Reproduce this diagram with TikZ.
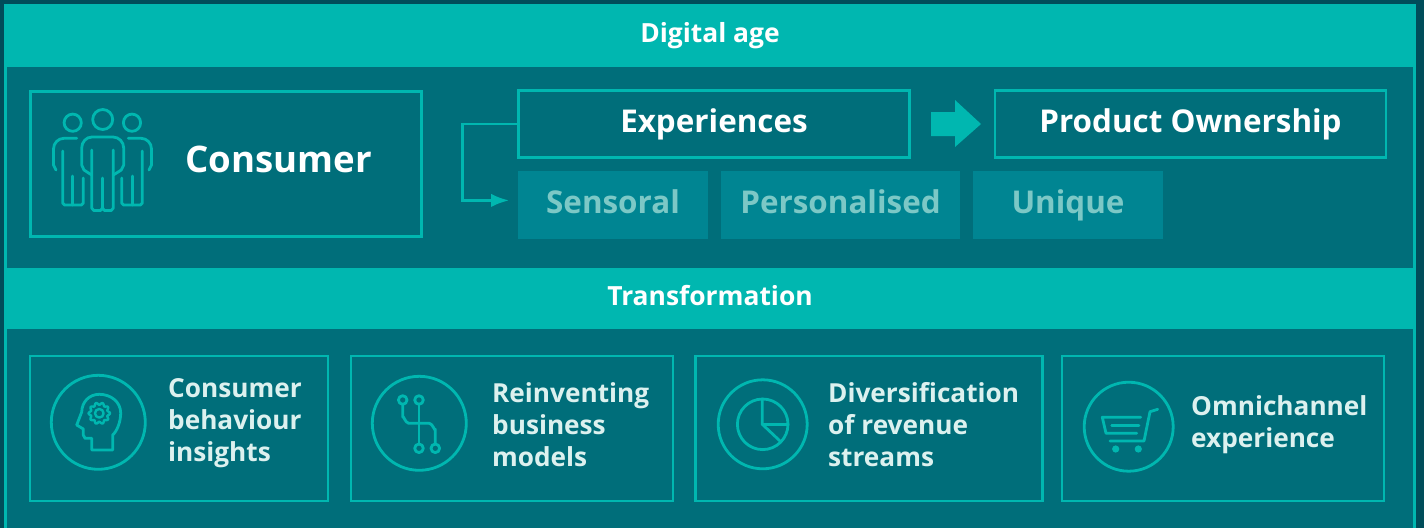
\documentclass[tikz,border=0pt]{standalone}
\usepackage{fontspec}
\setmainfont{Open Sans}
\usetikzlibrary{arrows.meta}
\definecolor{outerc}{HTML}{004D5A}
\definecolor{panelc}{HTML}{006E7A}
\definecolor{brightc}{HTML}{00B7B0}
\definecolor{tilec}{HTML}{008592}
\definecolor{tiletext}{HTML}{7CC8C6}
\definecolor{labeltext}{HTML}{DCF1EF}
\tikzset{
  band/.style={fill=brightc, draw=none, minimum height=63pt, inner sep=0pt, text=white, text height=19pt, text depth=6pt, font=\fontsize{26.4}{26.4}\bfseries},
  framebox/.style={draw=brightc, line width=2.5pt, inner sep=0pt},
  headbox/.style={framebox, text=white, text height=24pt, text depth=7pt, font=\fontsize{31.4}{31.4}\bfseries},
  tilebox/.style={fill=tilec, inner sep=0pt, text=tiletext, text height=24pt, text depth=7pt, font=\fontsize{31.4}{31.4}\bfseries},
  cardtext/.style={text=labeltext, font=\fontsize{26.2}{32}\bfseries, align=left, anchor=west, inner sep=0pt},
  icon/.style={draw=brightc, line width=2.8pt, line cap=round, line join=round},
  ring/.style={draw=brightc, line width=2.8pt},
}
\begin{document}
\begin{tikzpicture}[x=1pt, y=-1pt]
  \useasboundingbox (0,0) rectangle (1424,528);
  \fill[outerc] (0,0) rectangle (1424,528);
  \fill[brightc] (4,4) rectangle (1416,528);
  \fill[panelc] (7,67) rectangle (1413,528);

  \node[band, minimum width=1412pt] (digital) at (710,35.5) {Digital age};
  \node[band, minimum width=1412pt, minimum height=61pt] (transform) at (710,298.5) {Transformation};

  % consumer box
  \node[framebox, minimum width=391pt, minimum height=145pt] (consumerbox) at (226,164) {};
  \node[text=white, font=\fontsize{36.6}{36.6}\bfseries, anchor=west, inner sep=0pt] (consumer) at (185,159) {Consumer};
  \draw[icon] (72.7,122.7) circle (8.6);
  \draw[icon] (102.7,119.5) circle (10);
  \draw[icon] (132,122.7) circle (8.6);
  % left person
  \draw[icon] (76.7,138.3) -- (64,138.3) to[out=180, in=90] (53.5,149) -- (53.5,165) -- (56,170);
  \draw[icon] (62.7,151) -- (62.7,203) -- (64.5,205) -- (81.5,205) -- (83.3,203) -- (83.3,178);
  \draw[icon] (72.7,176) -- (72.7,205);
  % right person
  \draw[icon] (128.3,138.3) -- (141,138.3) to[out=0, in=90] (151.5,149) -- (151.5,165) -- (149,170);
  \draw[icon] (142.3,151) -- (142.3,203) -- (140.5,205) -- (123.5,205) -- (121.7,203) -- (121.7,178);
  \draw[icon] (132.3,176) -- (132.3,205);
  % middle person
  \draw[icon] (91.7,175) -- (84,170) -- (81.7,165) -- (81.7,148) to[out=90, in=180] (92,137) -- (113,137) to[out=0, in=90] (123.7,148) -- (123.7,165) -- (121.3,170) -- (113.3,175);
  \draw[icon] (91.7,150) -- (91.7,208) -- (93.7,210.5) -- (100.5,210.5) -- (102.5,208) -- (104.5,210.5) -- (111.3,210.5) -- (113.3,208) -- (113.3,150);
  \draw[icon] (102.5,178) -- (102.5,208);

  % experiences row
  \node[headbox, minimum width=391pt, minimum height=67pt] (experiences) at (714,124) {Experiences};
  \node[headbox, minimum width=391pt, minimum height=67pt] (ownership) at (1190.5,124) {Product Ownership};
  \node[tilebox, minimum width=190pt, minimum height=68pt] (sensoral) at (613,205) {Sensoral};
  \node[tilebox, minimum width=239pt, minimum height=68pt] (personalised) at (840.5,205) {Personalised};
  \node[tilebox, minimum width=190pt, minimum height=68pt] (unique) at (1068,205) {Unique};
  \coordinate (bendtop) at (462.3,124);
  \coordinate (bendlow) at (462.3,200.4);
  \coordinate (arrowend) at (509,200.4);
  \draw[brightc, line width=2.5pt, -{Latex[length=18pt, width=13.5pt]}] (experiences.west) -- (bendtop) -- (bendlow) -- (arrowend);
  \fill[brightc] (931,112) -- (955,112) -- (955,100) -- (981,124) -- (955,147) -- (955,136) -- (931,136) -- cycle;

  % transformation cards
  \node[framebox, minimum width=298pt, minimum height=145pt] (card1) at (179,428.5) {};
  \node[framebox, minimum width=322pt, minimum height=145pt] (card2) at (512,428.5) {};
  \node[framebox, minimum width=347pt, minimum height=145pt] (card3) at (869,428.5) {};
  \node[framebox, minimum width=322pt, minimum height=145pt] (card4) at (1223,428.5) {};
  \node[cardtext] (text1) at (168,423) {Consumer\\behaviour\\insights};
  \node[cardtext] (text2) at (492,425) {Reinventing\\business\\models};
  \node[cardtext] (text3) at (828,425) {Diversification\\of revenue\\streams};
  \node[cardtext] (text4) at (1191,425) {Omnichannel\\experience};

  % card icons
  \draw[ring] (98.3,422.3) circle (47);
  \draw[icon] (91.7,438.3) -- (91.7,450) -- (112.7,450) -- (112.7,435)
    .. controls (117,431) and (120.7,422) .. (120.7,413)
    .. controls (120.7,402) and (111,394.3) .. (99.3,394.3)
    .. controls (89,394.3) and (82,402) .. (81.7,412)
    -- (76.7,425) -- (83.3,429) -- (83.3,435) -- (85,438.3) -- cycle;
  \draw[icon, line width=2.4pt] plot[domain=0:360, samples=145, smooth] ({99.3+(9.6+1.1*cos(10*\x))*cos(\x)}, {413.3+(9.6+1.1*cos(10*\x))*sin(\x)});
  \draw[icon, line width=2.4pt] (99.3,413.3) circle (4.3);

  \draw[ring] (419.3,423.3) circle (47);
  \draw[icon] (402.7,400) circle (4.3);
  \draw[icon] (419,400) circle (4.3);
  \draw[icon] (419,448.3) circle (4.3);
  \draw[icon] (435.3,448.3) circle (4.3);
  \draw[icon] (402.7,404.3) -- (402.7,417) to[out=90, in=180] (408.7,423.3) -- (429.3,423.3) to[out=0, in=-90] (435.3,429.3) -- (435.3,444);
  \draw[icon] (419,404.3) -- (419,444);

  \draw[ring] (762.7,424.3) circle (44.5);
  \draw[icon] (762.7,424.3) circle (25.3);
  \draw[icon] (762.3,399) -- (762.3,424.3) -- (780,441);
  \draw[icon] (762.3,424.3) -- (788,424.3);

  \draw[ring] (1128.7,426.7) circle (44.5);
  \draw[icon] (1140.7,417.3) -- (1102.3,417.3) -- (1106,433.3) -- (1136.7,433.3);
  \draw[icon] (1111.7,425.3) -- (1139,425.3);
  \draw[icon] (1110,441) -- (1144,441) -- (1150,411.7) -- (1157.7,409.3);
  \fill[brightc] (1115.7,449) circle (3.6);
  \fill[brightc] (1138.3,449) circle (3.6);
\end{tikzpicture}
\end{document}
